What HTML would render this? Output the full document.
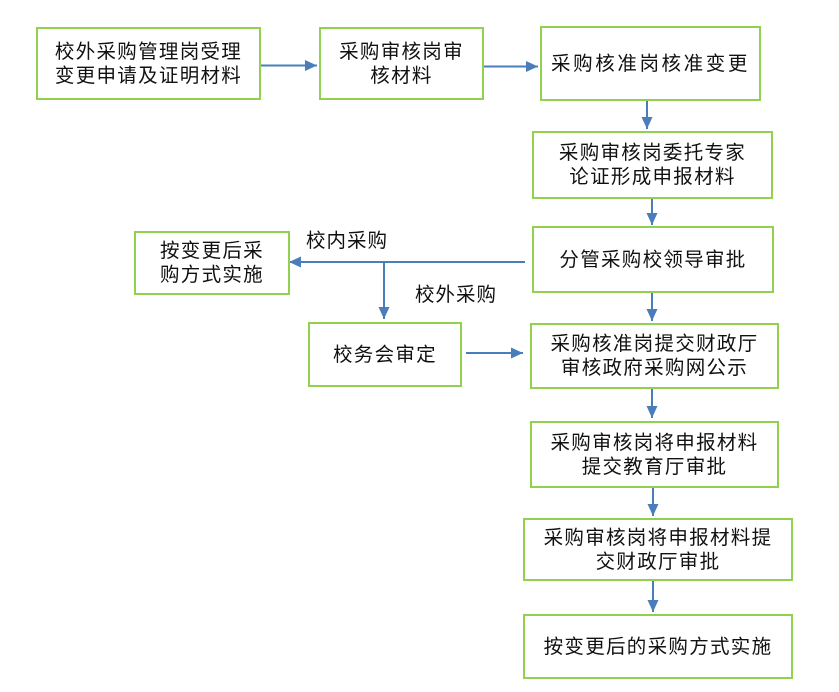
<!DOCTYPE html>
<html><head><meta charset="utf-8"><style>
html,body{margin:0;padding:0;background:#fff;}
body{width:839px;height:692px;position:relative;overflow:hidden;font-family:"Liberation Sans","Noto Sans CJK SC",sans-serif;color:#111;}
.b{position:absolute;box-sizing:border-box;border:2.5px solid #92d050;display:flex;flex-direction:column;align-items:center;justify-content:center;font-size:19.5px;line-height:24px;letter-spacing:1.3px;text-align:center;white-space:nowrap;}
.l{position:absolute;font-size:19.5px;letter-spacing:1px;white-space:nowrap;line-height:24px;}
svg{position:absolute;left:0;top:0;}
</style></head><body>
<svg width="839" height="692">
<defs><marker id="a" markerWidth="12" markerHeight="11" refX="12" refY="5.5" orient="auto" markerUnits="userSpaceOnUse"><path d="M0,0 L12,5.5 L0,11 Z" fill="#4a7ebb"/></marker></defs>
<g stroke="#4a7ebb" stroke-width="2" fill="none">
<line x1="261" y1="65.5" x2="317" y2="65.5" marker-end="url(#a)"/>
<line x1="484" y1="66.5" x2="538" y2="66.5" marker-end="url(#a)"/>
<line x1="647" y1="100" x2="647" y2="129" marker-end="url(#a)"/>
<line x1="652" y1="198" x2="652" y2="225" marker-end="url(#a)"/>
<line x1="525" y1="262" x2="289" y2="262" marker-end="url(#a)"/>
<line x1="384" y1="262" x2="384" y2="319" marker-end="url(#a)"/>
<line x1="466" y1="353" x2="523" y2="353" marker-end="url(#a)"/>
<line x1="652" y1="292" x2="652" y2="321" marker-end="url(#a)"/>
<line x1="652" y1="388" x2="652" y2="418" marker-end="url(#a)"/>
<line x1="653" y1="487" x2="653" y2="516" marker-end="url(#a)"/>
<line x1="653" y1="580" x2="653" y2="612" marker-end="url(#a)"/>
</g>
</svg>
<div class="b" style="left:36px;top:27px;width:225px;height:73px;"><div>校外采购管理岗受理</div><div>变更申请及证明材料</div></div>
<div class="b" style="left:319px;top:27px;width:165px;height:73px;"><div>采购审核岗审</div><div>核材料</div></div>
<div class="b" style="left:540px;top:26px;width:221px;height:75px;letter-spacing:2.6px;">采购核准岗核准变更</div>
<div class="b" style="left:532px;top:131px;width:241px;height:68px;"><div>采购审核岗委托专家</div><div>论证形成申报材料</div></div>
<div class="b" style="left:532px;top:226px;width:242px;height:67px;">分管采购校领导审批</div>
<div class="b" style="left:134px;top:231px;width:156px;height:64px;"><div>按变更后采</div><div>购方式实施</div></div>
<div class="b" style="left:308px;top:322px;width:154px;height:65px;">校务会审定</div>
<div class="b" style="left:530px;top:323px;width:249px;height:66px;"><div>采购核准岗提交财政厅</div><div>审核政府采购网公示</div></div>
<div class="b" style="left:530px;top:421px;width:249px;height:67px;"><div>采购审核岗将申报材料</div><div>提交教育厅审批</div></div>
<div class="b" style="left:523px;top:518px;width:270px;height:63px;"><div>采购审核岗将申报材料提</div><div>交财政厅审批</div></div>
<div class="b" style="left:523px;top:614px;width:270px;height:65px;">按变更后的采购方式实施</div>
<div class="l" style="left:306px;top:229px;">校内采购</div>
<div class="l" style="left:415px;top:283px;">校外采购</div>
</body></html>
